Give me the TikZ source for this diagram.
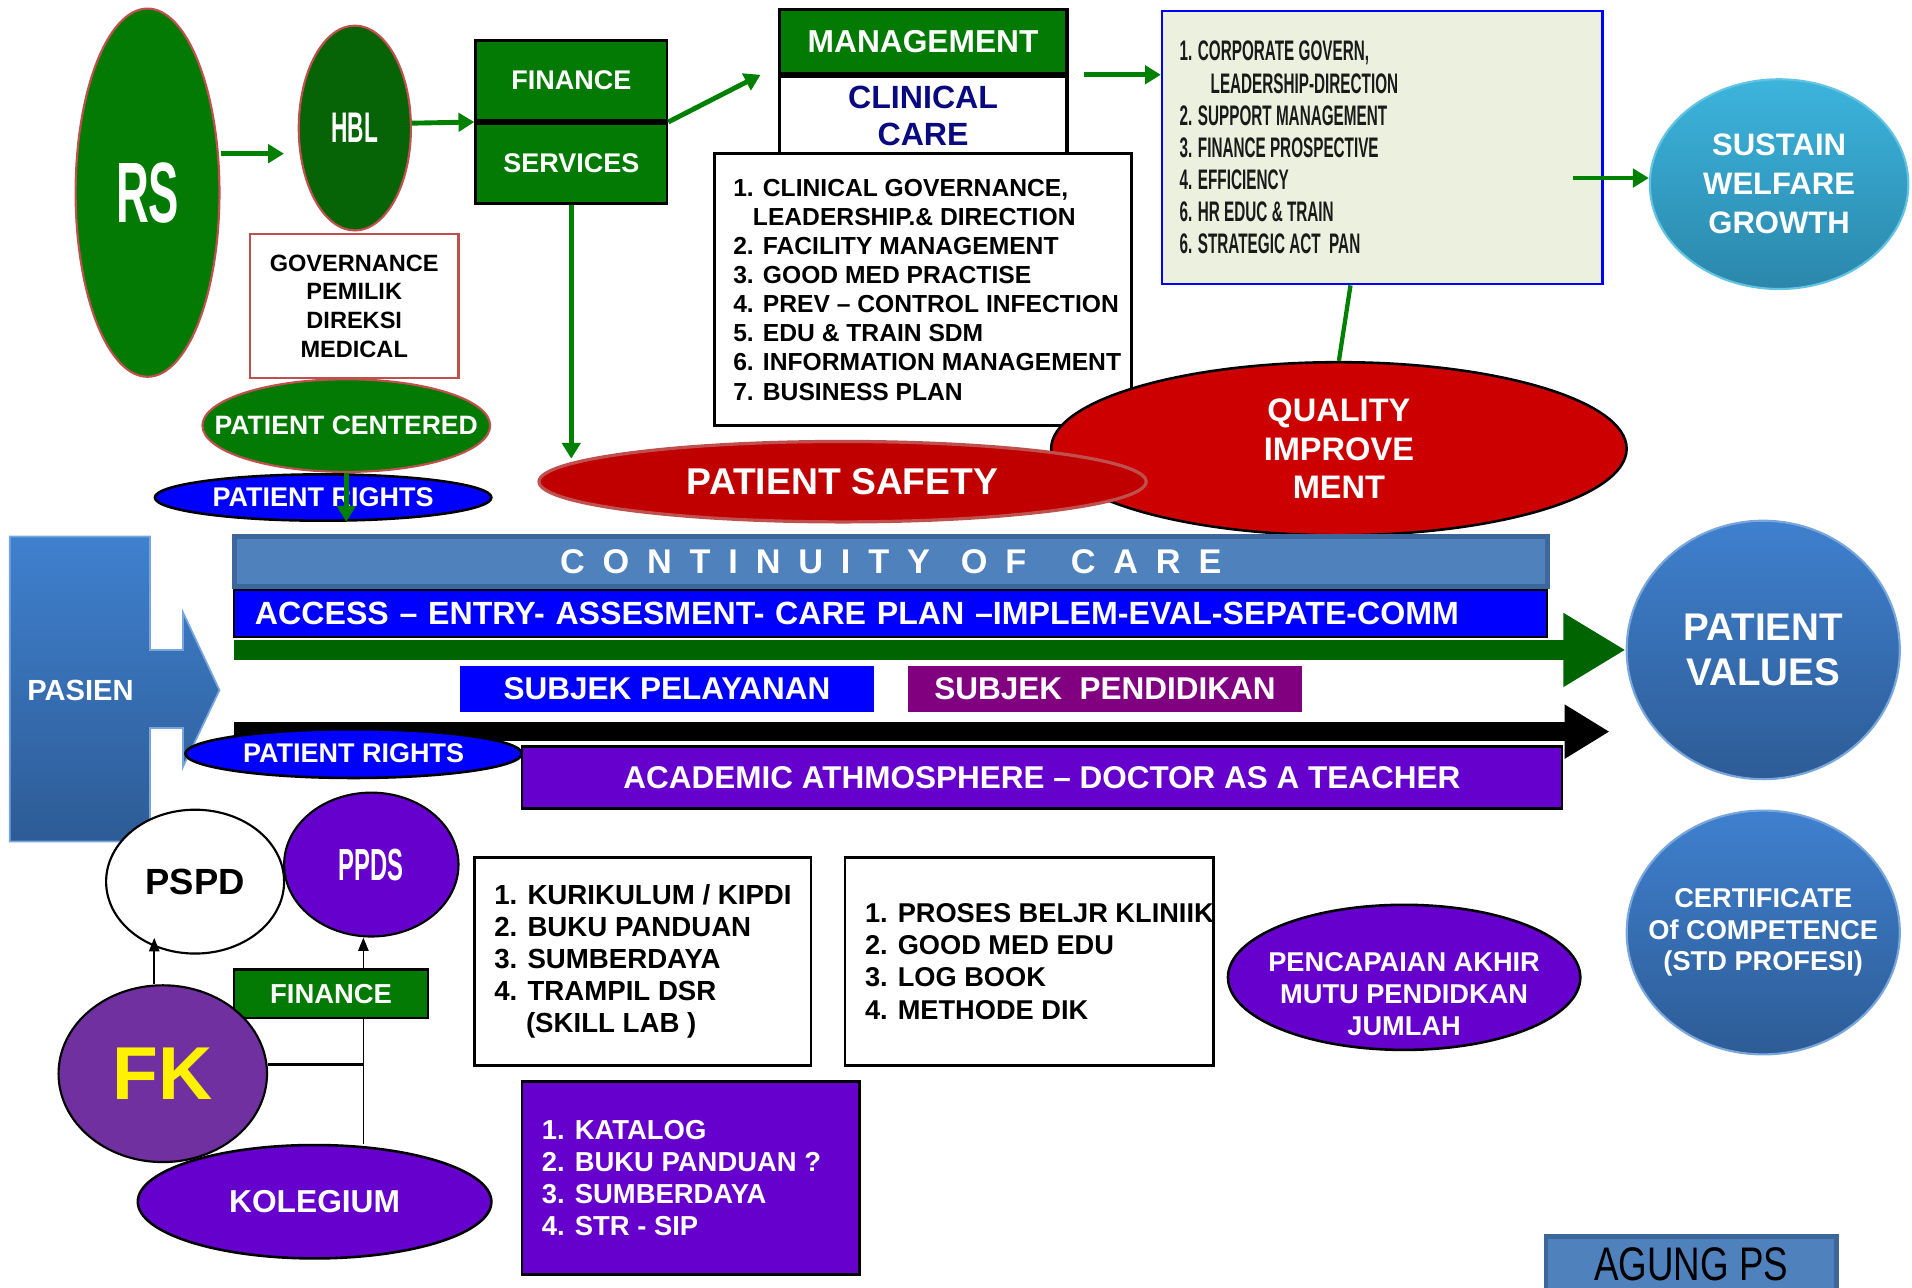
\documentclass[tikz,border=0pt]{standalone}
\usepackage{fontspec}
\setmainfont{Liberation Sans}
\newfontfamily\slimfont[FakeStretch=0.53]{Liberation Sans}
\newfontfamily\listslimfont[FakeStretch=0.54]{Liberation Sans}
\newfontfamily\narrowfont[FakeStretch=0.78]{Liberation Sans}
\newfontfamily\spacedfont[LetterSpace=52]{Liberation Sans}
\usetikzlibrary{shapes.geometric,arrows.meta,positioning,calc}

\definecolor{rsgreen}{HTML}{037A03}
\definecolor{hblgreen}{HTML}{066306}
\definecolor{edgered}{HTML}{C0504D}
\definecolor{arrowgreen}{HTML}{008000}
\definecolor{navytext}{HTML}{0A0A80}
\definecolor{corpfill}{HTML}{EBF1DE}
\definecolor{corptext}{HTML}{1A1A1A}
\definecolor{qualred}{HTML}{CC0000}
\definecolor{safered}{HTML}{C00000}
\definecolor{cocblue}{HTML}{4F81BD}
\definecolor{cocedge}{HTML}{3D679A}
\definecolor{pureblue}{HTML}{0000FF}
\definecolor{bandgreen}{HTML}{006400}
\definecolor{subjpurple}{HTML}{800080}
\definecolor{violetfill}{HTML}{6600CC}
\definecolor{fkpurple}{HTML}{7030A0}
\definecolor{tealtop}{HTML}{3CB4DC}
\definecolor{tealbot}{HTML}{2B87AB}
\definecolor{valtop}{HTML}{3F80CE}
\definecolor{valbot}{HTML}{2D5C96}

\newcommand{\fsz}[2]{\fontsize{#1}{#2}\selectfont}

\tikzset{
  oval/.style={ellipse, draw, inner sep=0pt},
  panel/.style={rectangle, draw, inner sep=0pt},
  listtext/.style={inner sep=0pt, align=left},
  garrow/.style={draw=arrowgreen, line width=0.08cm, -{Triangle[length=0.26cm,width=0.3cm]}},
  gline/.style={draw=arrowgreen, line width=0.07cm},
  barrow/.style={draw=black, line width=0.8pt, -{Triangle[length=0.22cm,width=0.17cm]}}
}

\begin{document}
\begin{tikzpicture}[x=0.02cm,y=-0.02cm]
    \useasboundingbox (0,0) rectangle (1568,1056);

    % rumah sakit side
    \node[oval, fill=rsgreen, draw=edgered, line width=1pt, minimum width=2.36cm, minimum height=6.04cm,
        text=white, font=\slimfont\bfseries\fsz{40}{40}] (rs) at (121,158) {RS};
    \node[oval, fill=hblgreen, draw=edgered, line width=1pt, minimum width=1.84cm, minimum height=3.36cm,
        text=white, font=\slimfont\bfseries\fsz{20}{20}] (hbl) at (291,105) {HBL};
    \node[panel, fill=rsgreen, line width=1.2pt, minimum width=3.14cm, minimum height=1.32cm,
        text=white, font=\bfseries\fsz{12.6}{14}] (fin) at (468.5,66) {FINANCE};
    \node[panel, fill=rsgreen, line width=1.2pt, minimum width=3.14cm, minimum height=1.32cm,
        text=white, font=\bfseries\fsz{12.6}{14}, below=0pt of fin] (srv) {SERVICES};
    \node[panel, fill=white, draw=edgered, line width=1pt, minimum width=3.42cm, minimum height=2.36cm,
        align=center, font=\bfseries\fsz{11}{13.4}] (gov) at (290.5,251) {GOVERNANCE\\PEMILIK\\DIREKSI\\MEDICAL};
    \node[oval, fill=rsgreen, draw=edgered, line width=1pt, minimum width=4.72cm, minimum height=1.52cm,
        label={[text=white, font=\bfseries\fsz{12.4}{14}]center:PATIENT CENTERED}] (pcent) at (284,349) {};
    \node[oval, fill=pureblue, line width=1.2pt, minimum width=5.52cm, minimum height=0.76cm,
        label={[text=white, font=\bfseries\fsz{12.6}{14}]center:PATIENT RIGHTS}] (prtop) at (265,408) {};

    \draw[garrow] (rs.east) ++(0,-32) -- ++(52,0);
    \draw[garrow] (hbl.east) ++(0,-4) -- (fin.south west);
    \draw[garrow] (pcent.south) -- ++(0,40);

    % management
    \node[panel, fill=rsgreen, line width=1.5pt, minimum width=4.72cm, minimum height=1.04cm,
        text=white, font=\bfseries\fsz{14.8}{16}] (mgmt) at (757,34) {MANAGEMENT};
    \node[panel, fill=white, line width=1.5pt, minimum width=4.72cm, minimum height=1.30cm, below=0pt of mgmt,
        text=navytext, align=center, font=\bfseries\fsz{15}{17.6}] (clin) {CLINICAL\\CARE};
    \node[panel, fill=white, line width=1.2pt, minimum width=6.84cm, minimum height=4.46cm] (clist) at (757,237.5) {};
    \node[listtext, right=0.32cm of clist.west, font=\bfseries\fsz{11.5}{13.6}] (clisttxt)
        {1. CLINICAL GOVERNANCE,\\\hspace{0.8em}LEADERSHIP.\& DIRECTION\\2. FACILITY MANAGEMENT\\3. GOOD MED PRACTISE\\
         4. PREV -- CONTROL INFECTION\\5. EDU \& TRAIN SDM\\6. INFORMATION MANAGEMENT\\7. BUSINESS PLAN};

    \node[panel, fill=corpfill, draw=pureblue, line width=1.2pt, minimum width=7.22cm, minimum height=4.48cm] (corp) at (1133.5,121) {};
    \node[listtext, right=0.3cm of corp.west, text=corptext, font=\listslimfont\bfseries\fsz{13.2}{15}] (corptxt)
        {1. CORPORATE GOVERN,\\\hspace{1.1em}LEADERSHIP-DIRECTION\\2. SUPPORT MANAGEMENT\\3. FINANCE PROSPECTIVE\\
         4. EFFICIENCY\\6. HR EDUC \& TRAIN\\6. STRATEGIC ACT\ \ PAN};
    \node[oval, top color=tealtop, bottom color=tealbot, draw=tealtop!80!white, line width=1pt,
        minimum width=4.24cm, minimum height=3.44cm, text=white, align=center,
        font=\bfseries\fsz{14.5}{18.2}] (sustain) at (1459,151) {SUSTAIN\\WELFARE\\GROWTH};

    \draw[garrow] (fin.south east) -- ($(mgmt.south west)+(-14,0)$);
    \draw[garrow] ($(mgmt.south east)+(13,0)$) -- (corp.west |- mgmt.south);
    \draw[garrow] ($(sustain.west)+(-62,-5)$) -- ($(sustain.west)+(0,-5)$);
    \draw[garrow] (srv.south) -- ++(0,208);

    % quality and safety
    \node[oval, fill=qualred, line width=1.2pt, minimum width=9.44cm, minimum height=2.84cm,
        text=white, align=center, font=\bfseries\fsz{15.2}{17.9}] (quality) at (1098,368) {QUALITY\\IMPROVE\\MENT};
    \draw[gline] ($(corp.south)+(-26,0)$) -- (quality.north);
    \node[oval, fill=safered, draw=edgered, line width=1.5pt, minimum width=9.96cm, minimum height=1.32cm,
        text=white, font=\bfseries\fsz{17.4}{20}] (psafety) at (691,395) {PATIENT SAFETY};

    % continuity of care band
    \node[panel, fill=cocblue, draw=cocedge, line width=2.5pt, minimum width=21.54cm, minimum height=0.82cm,
        text=white, font=\spacedfont\bfseries\fsz{16}{18}] (coc) at (730.5,460.5) {CONTINUITY\hspace{0.9em}OF\hspace{1.3em}CARE};
    \node[panel, fill=pureblue, line width=1pt, minimum width=21.54cm, minimum height=0.76cm, below=0pt of coc,
        inner xsep=0.34cm, text width=20.86cm, align=left, text=white, font=\bfseries\fsz{15}{16}] (access)
        {ACCESS -- ENTRY- ASSESMENT- CARE PLAN --IMPLEM-EVAL-SEPATE-COMM};

    \node[oval, top color=valtop, bottom color=valbot, draw=valtop!70!white, line width=1pt,
        minimum width=4.48cm, minimum height=4.24cm, text=white, align=center,
        font=\bfseries\fsz{18}{21}] (pval) at (1446,533) {PATIENT\\VALUES};
    \node[oval, top color=valtop, bottom color=valbot, draw=valtop!70!white, line width=1pt,
        minimum width=4.48cm, minimum height=4.0cm, below=0.48cm of pval,
        label={[text=white, align=center, font=\bfseries\fsz{12.7}{14.8}]center:{CERTIFICATE\\Of COMPETENCE\\(STD PROFESI)}}] (cert) {};

    \coordinate (gstart) at (192,533);
    \draw[draw=bandgreen, line width=0.32cm, -{Triangle[length=1.02cm,width=1.14cm]}] (gstart) -- (pval.west);

    \node[panel, draw=none, fill=pureblue, minimum width=6.8cm, minimum height=0.76cm,
        text=white, font=\bfseries\fsz{14.7}{16}] (sp) at (547,565) {SUBJEK PELAYANAN};
    \node[panel, draw=none, fill=subjpurple, minimum width=6.46cm, minimum height=0.76cm, right=0.54cm of sp,
        text=white, font=\bfseries\fsz{14.7}{16}] (sd) {SUBJEK\ \ PENDIDIKAN};

    % pasien
    \draw[top color=valtop, bottom color=valbot, draw=valtop!70!white, line width=0.8pt]
        (8,440) -- (123,440) -- (123,533) -- (150,533) -- (150,502) -- (180,566) -- (150,629)
        -- (150,597) -- (123,597) -- (123,690) -- (8,690) -- cycle;
    \node[text=white, font=\bfseries\fsz{13.6}{15}] (pasien) at (66,566) {PASIEN};

    \coordinate (bstart) at (192,600);
    \coordinate (bend) at (1320,600);
    \draw[line width=0.32cm, -{Triangle[length=0.74cm,width=0.84cm]}] (bstart) -- (bend);

    \node[oval, fill=pureblue, line width=1.2pt, minimum width=5.52cm, minimum height=0.8cm,
        label={[text=white, font=\bfseries\fsz{12.6}{14}]center:PATIENT RIGHTS}] (prlow) at (290,618) {};
    \node[panel, fill=violetfill, line width=1.2pt, minimum width=17.06cm, minimum height=1.02cm,
        text=white, font=\bfseries\fsz{14.7}{16}] (acad) at (854.5,637.5) {ACADEMIC ATHMOSPHERE -- DOCTOR AS A TEACHER};

    % pendidikan side
    \node[oval, fill=white, line width=1pt, minimum width=2.92cm, minimum height=2.36cm,
        font=\bfseries\fsz{17}{17}] (pspd) at (160,723) {PSPD};
    \node[oval, fill=violetfill, line width=1pt, minimum width=2.86cm, minimum height=2.36cm,
        text=white, font=\slimfont\bfseries\fsz{21}{21}] (ppds) at (304.5,709) {PPDS};
    \node[panel, fill=rsgreen, line width=1.2pt, minimum width=3.18cm, minimum height=0.8cm,
        text=white, font=\bfseries\fsz{12.8}{14}] (finb) at (271.5,815) {FINANCE};
    \node[oval, fill=fkpurple, line width=1pt, minimum width=3.42cm, minimum height=2.9cm,
        text=yellow, font=\bfseries\fsz{35}{35}] (fk) at (133.5,880.5) {FK};
    \node[oval, fill=violetfill, line width=1.2pt, minimum width=5.8cm, minimum height=1.86cm,
        text=white, font=\bfseries\fsz{14.8}{16}] (kol) at (258,985.5) {KOLEGIUM};

    \coordinate (jn) at (298,873);
    \draw[barrow] (fk.north) ++(-7,0) -- ++(0,-38);
    \draw[barrow] (jn |- finb.north) -- (jn |- ppds.south);
    \draw[line width=0.8pt] (jn |- finb.south) -- (jn |- kol.north);
    \draw[line width=1.5pt] (fk.east |- jn) -- (jn);

    \node[panel, fill=white, line width=1.2pt, minimum width=5.52cm, minimum height=3.42cm] (kur) at (527,788.5) {};
    \node[listtext, right=0.34cm of kur.west, font=\bfseries\fsz{12.9}{15}] (kurtxt)
        {1. KURIKULUM / KIPDI\\2. BUKU PANDUAN\\3. SUMBERDAYA\\4. TRAMPIL DSR\\\hspace{1.15em}(SKILL LAB )};
    \node[panel, fill=white, line width=1.2pt, minimum width=6.04cm, minimum height=3.42cm, right=0.52cm of kur] (proses) {};
    \node[listtext, right=0.34cm of proses.west, font=\bfseries\fsz{12.7}{15}] (prosestxt)
        {1. PROSES BELJR KLINIIK\\2. GOOD MED EDU\\3. LOG BOOK\\4. METHODE DIK};
    \node[panel, fill=violetfill, line width=1.2pt, minimum width=5.54cm, minimum height=3.16cm] (kat) at (566.5,966) {};
    \node[listtext, right=0.34cm of kat.west, text=white, font=\bfseries\fsz{12.8}{15}] (kattxt)
        {1. KATALOG\\2. BUKU PANDUAN ?\\3. SUMBERDAYA\\4. STR - SIP};

    \node[oval, fill=violetfill, line width=1.2pt, minimum width=5.78cm, minimum height=2.38cm,
        label={[yshift=-0.28cm, text=white, align=center, font=\bfseries\fsz{12.7}{15}]center:{PENCAPAIAN AKHIR\\MUTU PENDIDKAN\\JUMLAH}}] (pencap) at (1151.5,801.5) {};

    \node[panel, fill=cocblue, draw=cocedge, line width=2pt, minimum width=4.76cm, minimum height=0.92cm,
        font=\narrowfont\fsz{22}{22}] (agung) at (1387,1037) {AGUNG PS};
\end{tikzpicture}
\end{document}
